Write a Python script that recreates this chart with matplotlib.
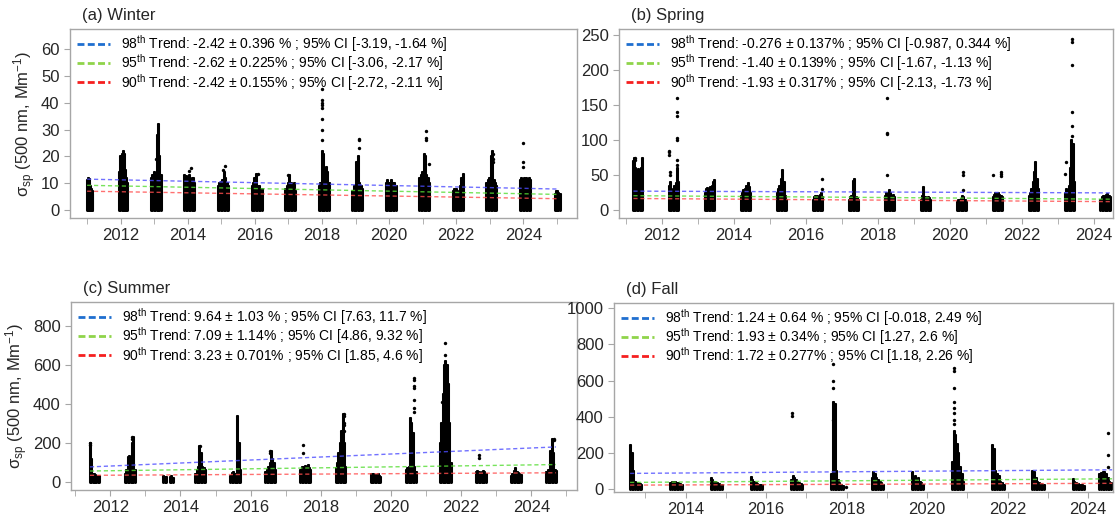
import numpy as np
import matplotlib.pyplot as plt
from matplotlib.lines import Line2D

plt.rcParams['font.family'] = ['Liberation Sans', 'DejaVu Sans']
plt.rcParams['mathtext.fontset'] = 'custom'
plt.rcParams['mathtext.rm'] = 'Liberation Sans'
plt.rcParams['mathtext.it'] = 'Liberation Sans:italic'

# ---- winter ----
win_t0 = [2011.00, 2011.96, 2012.90, 2013.90, 2014.90, 2015.90, 2016.90, 2017.90,
          2018.90, 2019.90, 2020.90, 2021.90, 2022.90, 2023.90, 2024.93]
win_t1 = [2011.16, 2012.20, 2013.20, 2014.20, 2015.20, 2016.20, 2017.20, 2018.20,
          2019.20, 2020.20, 2021.20, 2022.20, 2023.20, 2024.20, 2025.08]
win_env = [[11, 12, 11.5, 10, 9, 8, 7, 6],
           [14, 20, 21, 22, 21, 15, 12, 10],
           [12, 13, 14, 12, 28, 32, 20, 13],
           [13, 12.5, 12, 13, 11, 12, 12, 10],
           [9, 10, 10.5, 11, 14, 12, 10, 9],
           [9, 10, 12, 13.5, 9, 9, 8, 8],
           [8, 9, 10, 13, 10, 8, 10, 7],
           [9, 10, 22, 21, 12, 16, 14, 10],
           [7, 9, 8, 18, 20, 10, 9, 8],
           [10, 11, 10, 9, 11, 10, 10, 9],
           [12, 13, 14, 21, 20, 13, 12, 10],
           [7, 8, 8, 6, 7, 9, 12, 13.5],
           [10, 11, 12, 20, 22, 11, 10, 9],
           [11, 12, 11.5, 12, 12, 11, 12, 11],
           [6, 7, 7, 6.5, 6]]
win_out_t = [2013.05, 2014.05, 2014.10, 2015.05, 2015.10, 2016.10, 2017.00,
             2018.00, 2018.00, 2018.00, 2018.00, 2018.00, 2018.00, 2018.00, 2018.00,
             2019.10, 2019.10, 2019.10, 2021.10, 2021.10, 2021.10, 2021.20,
             2023.10, 2023.10, 2023.10, 2024.00, 2024.00, 2024.00]
win_out_v = [19, 14.5, 15.5, 15, 16.5, 13.5, 13,
             45, 41, 40, 39, 38, 34, 30, 26,
             26.5, 26, 23, 29.5, 27, 26, 17,
             19, 18, 21, 25, 18, 16]
win_tx = [2011.0, 2025.05]
win_blue = [11.5, 7.8]
win_green = [9.2, 5.8]
win_red = [7.0, 4.2]

# ---- spring ----
spr_years = np.arange(2011, 2025)
spr_t0 = [y + 0.18 for y in spr_years]
spr_t1 = [y + 0.45 for y in spr_years]
spr_env = [[70, 75, 60, 55, 58, 50, 60, 75],
           [35, 40, 30, 25, 35, 38, 60, 40],
           [25, 30, 32, 30, 33, 35, 40, 43],
           [20, 25, 28, 30, 35, 38, 33, 25],
           [25, 30, 35, 45, 57, 40, 20, 15],
           [15, 18, 20, 20, 18, 22, 25, 18],
           [15, 18, 20, 42, 44, 18, 17, 15],
           [20, 25, 22, 28, 25, 20, 22, 18],
           [15, 20, 33, 18, 16, 18, 17, 15],
           [12, 14, 15, 16, 20, 18, 15, 12],
           [18, 22, 25, 24, 25, 22, 20, 18],
           [20, 25, 30, 40, 55, 68, 45, 30],
           [25, 30, 28, 35, 60, 100, 95, 40],
           [15, 18, 20, 20, 22, 23, 20, 18]]
spr_out_t = [2011.25, 2011.25, 2012.20, 2012.20, 2012.20, 2012.22, 2012.22,
             2012.40, 2012.40, 2012.40, 2012.40, 2012.40, 2012.40, 2012.40,
             2016.45, 2016.45, 2018.25, 2018.25, 2018.25, 2018.25,
             2020.35, 2020.35, 2020.35, 2021.20, 2021.42, 2021.42, 2021.42,
             2023.20, 2023.22, 2023.38, 2023.38, 2023.38, 2023.38, 2023.38, 2023.38]
spr_out_v = [75, 72, 85, 83, 78, 55, 50,
             160, 140, 135, 103, 100, 72, 65,
             45, 30, 160, 110, 108, 50,
             55, 50, 28, 50, 55, 52, 48,
             52, 68, 245, 240, 207, 140, 120, 106]
spr_tx = [2011.2, 2024.5]
spr_blue = [27, 24.5]
spr_green = [20.5, 15.5]
spr_red = [16.5, 12]

# ---- summer ----
sum_t0 = [2011.42, 2012.42, 2013.50, 2013.70, 2014.42, 2015.42, 2016.42, 2017.42,
          2018.42, 2019.42, 2020.42, 2021.40, 2022.42, 2023.42, 2024.42]
sum_t1 = [2011.68, 2012.70, 2013.60, 2013.78, 2014.70, 2015.70, 2016.70, 2017.70,
          2018.70, 2019.70, 2020.70, 2021.70, 2022.70, 2023.70, 2024.70]
sum_env = [[200, 120, 40, 40, 35, 30, 30, 30],
           [40, 60, 130, 135, 120, 200, 230, 60],
           [30, 25, 28],
           [25, 30, 22],
           [40, 60, 80, 185, 150, 80, 70, 60],
           [30, 45, 50, 40, 30, 340, 200, 60],
           [50, 60, 80, 100, 160, 120, 100, 60],
           [60, 80, 75, 85, 80, 90, 70, 60],
           [70, 100, 150, 200, 260, 350, 200, 80],
           [40, 35, 40, 38, 35, 40, 30, 25],
           [60, 70, 80, 330, 300, 250, 80, 50],
           [200, 300, 450, 600, 620, 600, 500, 300, 100],
           [50, 55, 50, 45, 50, 55, 50, 40],
           [30, 40, 55, 70, 50, 45, 40, 35],
           [50, 60, 55, 160, 220, 150, 60, 55]]
sum_out_t = [2011.42, 2011.42, 2012.62, 2012.62, 2014.55, 2016.55, 2016.55,
             2017.50, 2017.50, 2018.65, 2018.65, 2018.65, 2018.65, 2018.65,
             2020.65, 2020.65, 2020.65, 2020.65, 2020.65, 2020.65, 2020.65,
             2021.55, 2021.55, 2021.45, 2022.50, 2022.50, 2024.65, 2024.65]
sum_out_v = [200, 190, 230, 220, 185, 160, 150,
             190, 150, 350, 340, 300, 290, 260,
             530, 520, 490, 480, 420, 380, 360,
             710, 650, 410, 140, 125, 220, 215]
sum_tx = [2011.42, 2024.7]
sum_blue = [78, 180]
sum_green = [57, 90]
sum_red = [35, 48]

# ---- fall ----
fal_t0 = [2012.62, 2013.62, 2014.62, 2015.62, 2016.62, 2017.62, 2018.62,
          2019.62, 2020.62, 2021.62, 2022.62, 2023.62, 2024.28]
fal_t1 = [2012.90, 2013.90, 2014.90, 2015.90, 2016.90, 2017.90, 2018.90,
          2019.90, 2020.90, 2021.90, 2022.90, 2023.90, 2024.57]
fal_env = [[240, 200, 100, 40, 30, 30, 25, 20],
           [30, 35, 40, 35, 30, 30, 25, 20],
           [60, 50, 40, 35, 30, 25, 20, 20],
           [65, 50, 40, 30, 25, 20, 20, 20],
           [50, 70, 60, 50, 40, 30, 25, 20],
           [80, 480, 470, 100, 50, 30, 20, 15],
           [60, 90, 80, 60, 50, 40, 30, 20],
           [90, 60, 70, 50, 60, 40, 30, 20],
           [150, 320, 300, 250, 200, 120, 80, 40],
           [240, 220, 100, 80, 70, 40, 30, 20],
           [100, 90, 60, 40, 30, 25, 20, 20],
           [55, 40, 30, 25, 20, 20, 20, 15],
           [80, 85, 90, 90, 80, 60, 40, 30]]
fal_out_t = [2016.64, 2016.64, 2017.66, 2017.66, 2017.66, 2017.66, 2017.98,
             2020.68, 2020.68, 2020.68, 2020.68, 2020.68, 2020.68, 2020.68, 2020.68,
             2024.50, 2024.50, 2024.50]
fal_out_v = [420, 405, 690, 600, 560, 380, 10,
             670, 650, 560, 480, 450, 420, 380, 360,
             310, 185, 120]
fal_tx = [2012.62, 2024.6]
fal_blue = [85, 105]
fal_green = [35, 55]
fal_red = [20, 30]

legend_a = [r'98$^{\rm th}$ Trend: -2.42 ± 0.396 % ; 95% CI [-3.19, -1.64 %]',
            r'95$^{\rm th}$ Trend: -2.62 ± 0.225% ; 95% CI [-3.06, -2.17 %]',
            r'90$^{\rm th}$ Trend: -2.42 ± 0.155% ; 95% CI [-2.72, -2.11 %]']
legend_b = [r'98$^{\rm th}$ Trend: -0.276 ± 0.137% ; 95% CI [-0.987, 0.344 %]',
            r'95$^{\rm th}$ Trend: -1.40 ± 0.139% ; 95% CI [-1.67, -1.13 %]',
            r'90$^{\rm th}$ Trend: -1.93 ± 0.317% ; 95% CI [-2.13, -1.73 %]']
legend_c = [r'98$^{\rm th}$ Trend: 9.64 ± 1.03 % ; 95% CI [7.63, 11.7 %]',
            r'95$^{\rm th}$ Trend: 7.09 ± 1.14% ; 95% CI [4.86, 9.32 %]',
            r'90$^{\rm th}$ Trend: 3.23 ± 0.701% ; 95% CI [1.85, 4.6 %]']
legend_d = [r'98$^{\rm th}$ Trend: 1.24 ± 0.64 % ; 95% CI [-0.018, 2.49 %]',
            r'95$^{\rm th}$ Trend: 1.93 ± 0.34% ; 95% CI [1.27, 2.6 %]',
            r'90$^{\rm th}$ Trend: 1.72 ± 0.277% ; 95% CI [1.18, 2.26 %]']

fig = plt.figure(figsize=(11.18, 5.17), dpi=100)
ax_a = fig.add_axes([0.0626, 0.5783, 0.4535, 0.3656])
ax_b = fig.add_axes([0.5537, 0.5783, 0.4419, 0.3656])
ax_c = fig.add_axes([0.0635, 0.0522, 0.4526, 0.3636])
ax_d = fig.add_axes([0.5492, 0.0484, 0.4463, 0.3656])

gray = '#a6a6a6'
line_cols = ['#4d4dff', '#55dd33', '#ff4d4d']
leg_cols = ['#1f6fcf', '#8fd44a', '#f51f1f']


def draw_panel(ax, t0, t1, env, out_t, out_v, tx, blue, green, red, labels,
               title, xlim, ylim, yticks, years):
    for a, b, e in zip(t0, t1, env):
        xs = np.linspace(a, b, len(e))
        ax.vlines(xs, 0, e, color='k', lw=2.2, capstyle='round', zorder=2)
        ax.scatter(xs, e, s=5, color='k', zorder=2, linewidths=0)
    ax.scatter(out_t, out_v, s=6, color='k', zorder=2, linewidths=0)
    for vals, c in zip([blue, green, red], line_cols):
        ax.plot(tx, vals, ls=(0, (3, 2)), color=c, lw=1.0, alpha=0.8, zorder=3)
    handles = [Line2D([0], [0], color=c, lw=2, ls=(0, (2.5, 1.2))) for c in leg_cols]
    ax.legend(handles, labels, loc='upper left', frameon=False, fontsize=10,
              handlelength=2.4, labelspacing=-0.12, borderaxespad=0.1,
              handletextpad=0.8, borderpad=0.2, bbox_to_anchor=(0.005, 1.0))
    ax.set_xlim(*xlim)
    ax.set_ylim(*ylim)
    ax.set_yticks(yticks)
    ax.set_xticks([y for y in years if y % 2 == 0])
    ax.set_xticks([y for y in years if y % 2 == 1], minor=True)
    ax.tick_params(which='both', direction='out', length=4, color=gray,
                   labelsize=12, labelcolor='#262626')
    for s in ax.spines.values():
        s.set_color(gray)
        s.set_linewidth(1.0)
    ax.text(0.024, 1.03, title, transform=ax.transAxes, fontsize=12,
            va='bottom', ha='left', color='#262626')


ylab = 'σ$_{\\rm sp}$ (500 nm, Mm$^{-1}$)'

draw_panel(ax_a, win_t0, win_t1, win_env, win_out_t, win_out_v, win_tx,
           win_blue, win_green, win_red, legend_a, '(a) Winter',
           (2010.49, 2025.6), (-3, 67.5), range(0, 61, 10), range(2011, 2026))
draw_panel(ax_b, spr_t0, spr_t1, spr_env, spr_out_t, spr_out_v, spr_tx,
           spr_blue, spr_green, spr_red, legend_b, '(b) Spring',
           (2010.8, 2024.53), (-11.4, 258.6), range(0, 251, 50), range(2011, 2025))
draw_panel(ax_c, sum_t0, sum_t1, sum_env, sum_out_t, sum_out_v, sum_tx,
           sum_blue, sum_green, sum_red, legend_c, '(c) Summer',
           (2010.88, 2025.3), (-40, 920), range(0, 801, 200), range(2011, 2026))
draw_panel(ax_d, fal_t0, fal_t1, fal_env, fal_out_t, fal_out_v, fal_tx,
           fal_blue, fal_green, fal_red, legend_d, '(d) Fall',
           (2012.22, 2024.62), (-18, 1030), range(0, 1001, 200), range(2013, 2025))

ax_a.set_ylabel(ylab, fontsize=12, color='#262626', labelpad=2)
ax_c.set_ylabel(ylab, fontsize=12, color='#262626', labelpad=2)

fig.savefig('out.png', dpi=100)
